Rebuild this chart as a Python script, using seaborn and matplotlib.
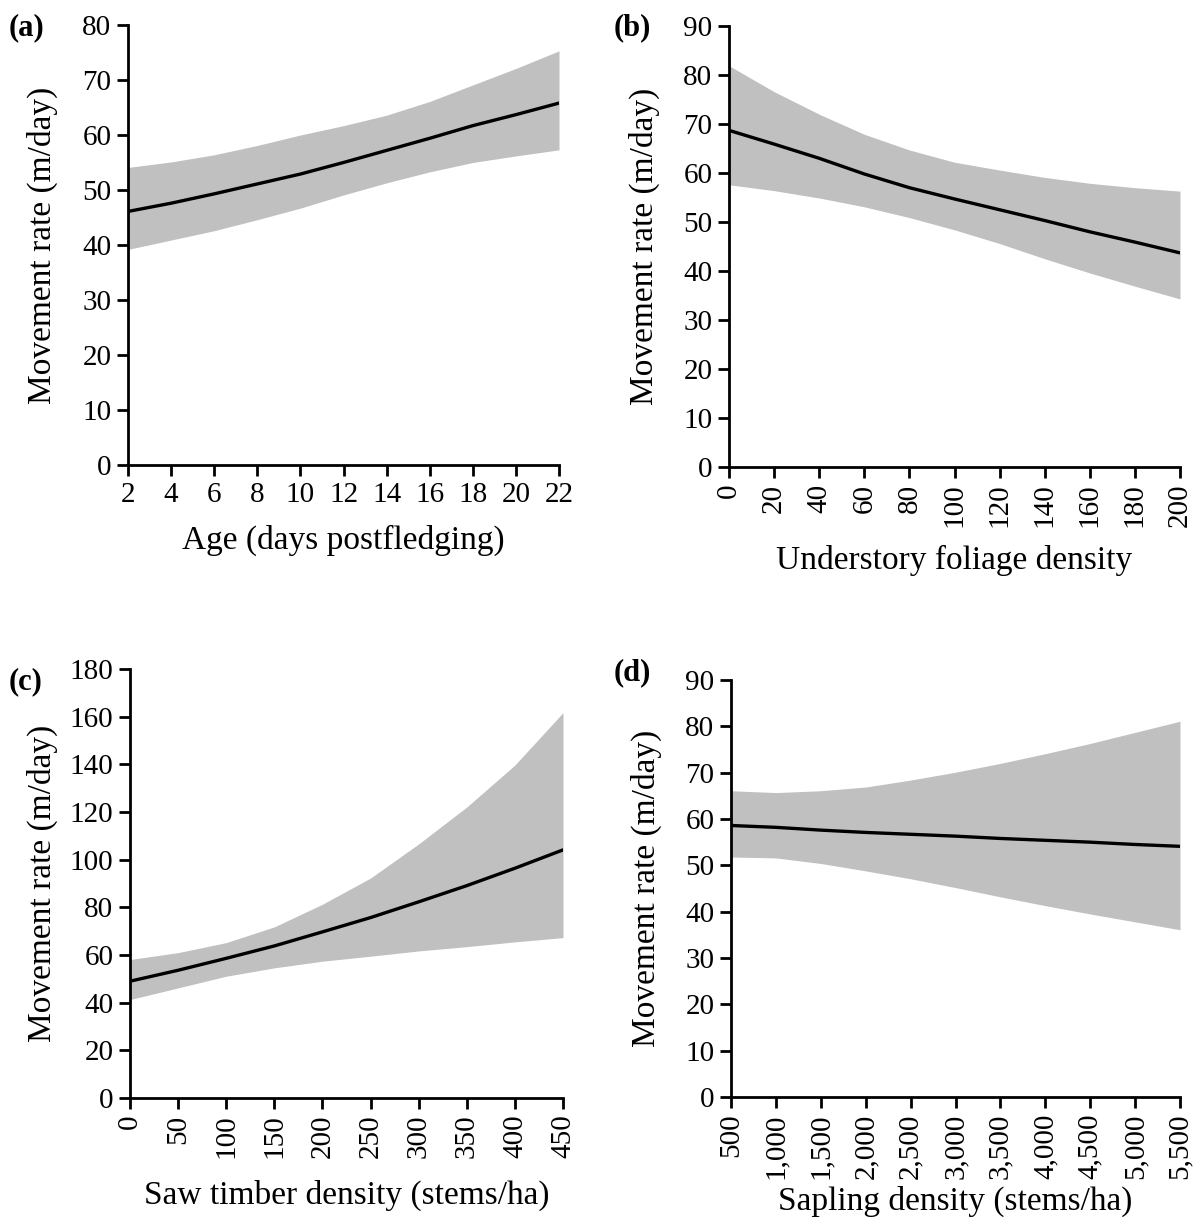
import numpy as np
import pandas as pd
import matplotlib
matplotlib.use("Agg")
import matplotlib.pyplot as plt
import matplotlib.transforms as mtransforms
import seaborn as sns

# ---- data ----
age_x = [2, 4, 6, 8, 10, 12, 14, 16, 18, 20, 22]
age_fit = [46.1, 47.6, 49.3, 51.1, 52.9, 55.0, 57.2, 59.4, 61.7, 63.7, 65.8]
age_lo = [39.2, 40.9, 42.6, 44.6, 46.7, 49.1, 51.3, 53.3, 55.0, 56.2, 57.3]
age_hi = [54.1, 55.1, 56.4, 58.1, 60.0, 61.7, 63.6, 66.1, 69.1, 72.1, 75.3]

und_x = [0, 20, 40, 60, 80, 100, 120, 140, 160, 180, 200]
und_fit = [68.7, 65.9, 63.0, 59.8, 57.0, 54.7, 52.5, 50.3, 48.0, 45.9, 43.7]
und_lo = [57.6, 56.4, 54.9, 53.1, 50.9, 48.4, 45.6, 42.5, 39.6, 36.9, 34.3]
und_hi = [81.9, 76.6, 72.0, 67.9, 64.7, 62.2, 60.6, 59.1, 57.9, 57.0, 56.3]

saw_x = [0, 50, 100, 150, 200, 250, 300, 350, 400, 450]
saw_fit = [49.0, 53.6, 58.6, 63.8, 69.7, 75.7, 82.3, 89.1, 96.4, 104.1]
saw_lo = [41.3, 46.2, 51.1, 54.6, 57.4, 59.5, 61.7, 63.5, 65.5, 67.3]
saw_hi = [58.1, 61.0, 65.2, 71.8, 81.3, 92.3, 106.6, 122.1, 139.7, 161.7]

sap_x = [500, 1000, 1500, 2000, 2500, 3000, 3500, 4000, 4500, 5000, 5500]
sap_fit = [58.6, 58.2, 57.6, 57.1, 56.7, 56.3, 55.8, 55.4, 55.0, 54.5, 54.1]
sap_lo = [51.8, 51.6, 50.4, 48.8, 47.1, 45.2, 43.2, 41.3, 39.5, 37.8, 36.1]
sap_hi = [66.1, 65.7, 66.1, 66.9, 68.4, 70.1, 72.0, 74.1, 76.3, 78.7, 81.1]

W, H = 1201, 1226


def rect_px(l, t, r, b):
    return [l / W, 1 - b / H, (r - l) / W, (b - t) / H]


panels = [
    dict(tag="(a)", x=age_x, fit=age_fit, lo=age_lo, hi=age_hi,
         xlabel="Age (days postfledging)", xlim=(2, 22), xticks=list(range(2, 23, 2)),
         ylim=(0, 80), yticks=list(range(0, 81, 10)), rot=0,
         box=(128, 25, 559, 465), tag_px=(9, 28), xlab_py=540, ylab_px=58),
    dict(tag="(b)", x=und_x, fit=und_fit, lo=und_lo, hi=und_hi,
         xlabel="Understory foliage density", xlim=(0, 200), xticks=list(range(0, 201, 20)),
         ylim=(0, 90), yticks=list(range(0, 91, 10)), rot=90,
         box=(729, 26, 1180, 467), tag_px=(614, 28), xlab_py=560, ylab_px=660),
    dict(tag="(c)", x=saw_x, fit=saw_fit, lo=saw_lo, hi=saw_hi,
         xlabel="Saw timber density (stems/ha)", xlim=(0, 450), xticks=list(range(0, 451, 50)),
         ylim=(0, 180), yticks=list(range(0, 181, 20)), rot=90,
         box=(130, 669, 563, 1098), tag_px=(9, 682), xlab_py=1195, ylab_px=58),
    dict(tag="(d)", x=sap_x, fit=sap_fit, lo=sap_lo, hi=sap_hi,
         xlabel="Sapling density (stems/ha)", xlim=(500, 5500), xticks=list(range(500, 5501, 500)),
         ylim=(0, 90), yticks=list(range(0, 91, 10)), rot=90,
         box=(731, 680, 1180, 1097), tag_px=(614, 673), xlab_py=1201, ylab_px=662),
]

sns.set_theme(style="ticks")
plt.rcParams['font.family'] = ['Liberation Serif', 'DejaVu Serif']
plt.rcParams['axes.linewidth'] = 2.0

fig = plt.figure(figsize=(W / 100, H / 100), dpi=100)
TICK_FS = 21
LAB_FS = 24
TAG_FS = 22

for p in panels:
    l, t, r, b = p["box"]
    ax = fig.add_axes(rect_px(l, t, r, b))
    df = pd.DataFrame({"x": p["x"], "fit": p["fit"], "lo": p["lo"], "hi": p["hi"]})
    ax.fill_between(df["x"], df["lo"], df["hi"], color="#c0c0c0", linewidth=0, zorder=1)
    sns.lineplot(data=df, x="x", y="fit", ax=ax, color="black", linewidth=2.4, zorder=3)
    ax.set_xlim(*p["xlim"])
    ax.set_ylim(*p["ylim"])
    ax.set_xticks(p["xticks"])
    ax.set_yticks(p["yticks"])
    if p["tag"] == "(d)":
        ax.set_xticklabels([f"{v:,}" for v in p["xticks"]], rotation=90)
    else:
        ax.set_xticklabels([str(v) for v in p["xticks"]], rotation=p["rot"])
    for s in ["top", "right"]:
        ax.spines[s].set_visible(False)
    for s in ["left", "bottom"]:
        ax.spines[s].set_color("black")
        ax.spines[s].set_linewidth(2.0)
    ax.tick_params(axis="both", direction="out", length=8, width=2, colors="black",
                   labelsize=TICK_FS, pad=4)
    ax.set_ylabel("Movement rate (m/day)", fontsize=LAB_FS, color="black")
    trans = mtransforms.blended_transform_factory(fig.transFigure, ax.transAxes)
    ax.yaxis.set_label_coords(p["ylab_px"] / W, 0.5, transform=trans)
    ax.set_xlabel("")
    fig.text((l + r) / 2 / W, 1 - p["xlab_py"] / H, p["xlabel"], ha="center", va="center",
             fontsize=LAB_FS, color="black")
    fig.text(p["tag_px"][0] / W, 1 - p["tag_px"][1] / H, p["tag"], ha="left", va="center",
             fontsize=TAG_FS, fontweight="bold", color="black")
    ax.set_facecolor("white")

fig.savefig("out.png", dpi=100, facecolor="white")
